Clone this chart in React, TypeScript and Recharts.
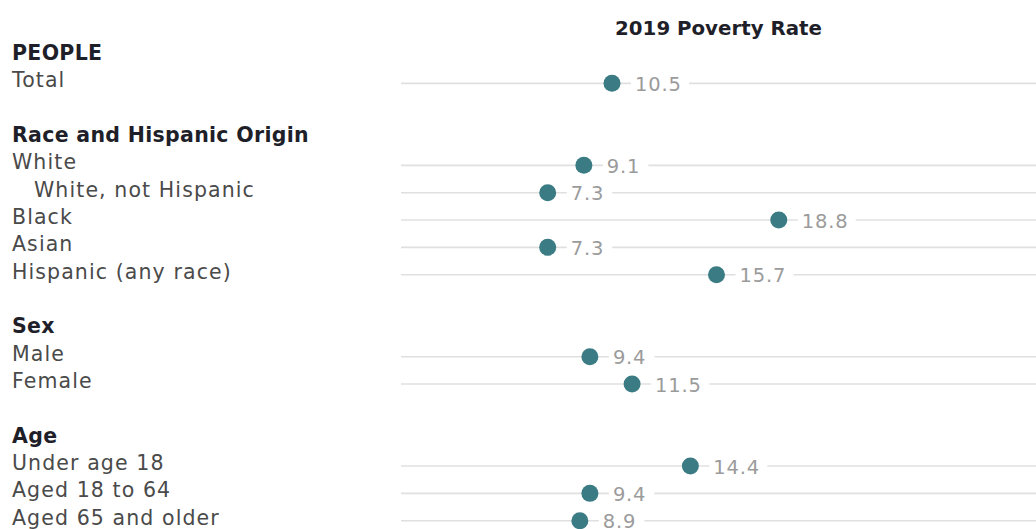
import { ComposedChart, Line, XAxis, YAxis, ReferenceLine } from "recharts"

const groups = ["PEOPLE", "Race and Hispanic Origin", "Sex", "Age"]
const groupSizes = [1, 5, 2, 3]
const categories = [
    "Total",
    "White",
    "White, not Hispanic",
    "Black",
    "Asian",
    "Hispanic (any race)",
    "Male",
    "Female",
    "Under age 18",
    "Aged 18 to 64",
    "Aged 65 and older",
]
const rates = [10.5, 9.1, 7.3, 18.8, 7.3, 15.7, 9.4, 11.5, 14.4, 9.4, 8.9]
const indented = ["White, not Hispanic"]

type Row = { key: string; label: string; kind: "header" | "item" | "blank"; rate: number | null }

const rows: Row[] = []
let idx = 0
groups.forEach((g, gi) => {
    if (gi > 0) rows.push({ key: `_blank${gi}`, label: "", kind: "blank", rate: null })
    rows.push({ key: `_head${gi}`, label: g, kind: "header", rate: null })
    for (let i = 0; i < groupSizes[gi]; i++) {
        rows.push({ key: categories[idx], label: categories[idx], kind: "item", rate: rates[idx] })
        idx++
    }
})

const DOT = "#3a7b84"
const GRID = "#e0e0e0"
const FONT = "'DejaVu Sans', Verdana, sans-serif"

const LabelTick = (props: any) => {
    const { y, payload } = props
    const row = rows.find((r) => r.key === payload.value)
    if (!row || row.kind === "blank") return null
    const isHead = row.kind === "header"
    const x = indented.includes(row.label) ? 34 : 12
    return (
        <text
            x={x}
            y={y - 3}
            dominantBaseline="central"
            fontFamily={FONT}
            fontSize={20.5}
            fontWeight={isHead ? 700 : 400}
            letterSpacing={isHead ? 0.3 : 1.1}
            fill={isHead ? "#1f1f2a" : "#4a4a4a"}
        >
            {row.label}
        </text>
    )
}

const RateDot = (props: any) => {
    const { cx, cy, payload } = props
    if (payload.rate == null || cx == null) return <g key={props.key} />
    const txt = payload.rate.toFixed(1)
    const w = txt.length * 12.5
    return (
        <g key={props.key}>
            <rect x={cx + 19} y={cy - 12} width={w + 8} height={24} fill="#ffffff" />
            <circle cx={cx} cy={cy} r={8.5} fill={DOT} />
            <text
                x={cx + 23}
                y={cy + 1}
                dominantBaseline="central"
                fontFamily={FONT}
                fontSize={19.5}
                letterSpacing={0.8}
                fill="#9b9b9b"
            >
                {txt}
            </text>
        </g>
    )
}

export default function App() {
    return (
        <div style={{ position: "absolute", left: 0, top: 0, width: 1036, height: 529, overflow: "hidden", background: "#fff" }}>
            <div
                style={{
                    position: "absolute",
                    left: 401,
                    width: 635,
                    top: 17,
                    lineHeight: "24px",
                    textAlign: "center",
                    fontFamily: FONT,
                    fontWeight: 700,
                    fontSize: 19.8,
                    color: "#1f1f2a",
                }}
            >
                2019 Poverty Rate
            </div>
            <ComposedChart
                width={1036}
                height={529}
                data={rows}
                layout="vertical"
                margin={{ top: 56, right: 0, bottom: 8.3, left: 0 }}
            >
                <XAxis type="number" domain={[0, 31.6]} hide allowDataOverflow />
                <YAxis
                    type="category"
                    dataKey="key"
                    width={401}
                    interval={0}
                    tickLine={false}
                    axisLine={false}
                    tick={<LabelTick />}
                />
                {rows
                    .filter((r) => r.kind === "item")
                    .map((r) => (
                        <ReferenceLine key={r.key} y={r.key} stroke={GRID} strokeWidth={1.6} />
                    ))}
                <Line
                    dataKey="rate"
                    stroke="none"
                    isAnimationActive={false}
                    dot={(p: any) => <RateDot {...p} />}
                    activeDot={false}
                />
            </ComposedChart>
        </div>
    )
}
